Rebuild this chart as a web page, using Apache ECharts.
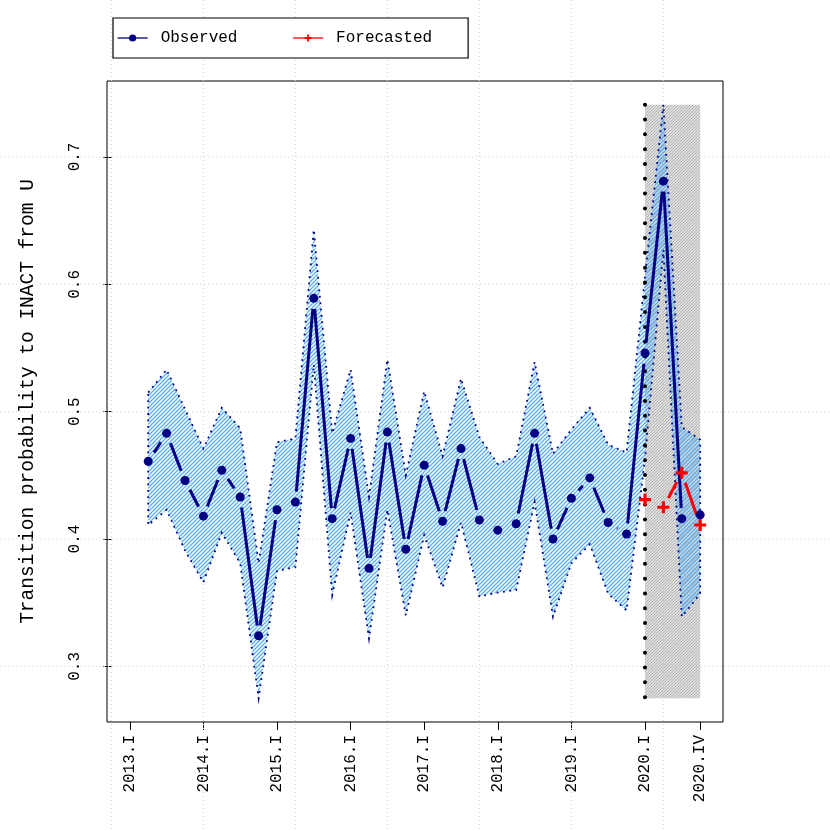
<!DOCTYPE html>
<html>
<head>
<meta charset="utf-8">
<script src="https://cdn.jsdelivr.net/npm/echarts@6/dist/echarts.min.js"></script>
<style>html,body{margin:0;padding:0;background:#fff}#c{width:830px;height:830px}</style>
</head>
<body>
<div id="c"></div>
<script>
// ---------------- data ----------------
const quarters = ['2013.II','2013.III','2013.IV','2014.I','2014.II','2014.III','2014.IV','2015.I','2015.II','2015.III','2015.IV',
  '2016.I','2016.II','2016.III','2016.IV','2017.I','2017.II','2017.III','2017.IV','2018.I','2018.II','2018.III','2018.IV',
  '2019.I','2019.II','2019.III','2019.IV','2020.I','2020.II','2020.III','2020.IV'];
const observed = [0.461,0.483,0.446,0.418,0.454,0.433,0.324,0.423,0.429,0.589,0.416,
  0.479,0.377,0.484,0.392,0.458,0.414,0.471,0.415,0.407,0.412,0.483,0.400,
  0.432,0.448,0.413,0.404,0.546,0.681,0.416,0.419];
const upperBand = [0.515,0.533,0.502,0.471,0.503,0.487,0.381,0.476,0.479,0.643,0.483,
  0.533,0.433,0.541,0.450,0.516,0.465,0.526,0.480,0.459,0.465,0.539,0.467,
  0.486,0.503,0.474,0.468,0.606,0.741,0.488,0.478];
const lowerBand = [0.411,0.423,0.391,0.366,0.405,0.381,0.275,0.375,0.378,0.537,0.356,
  0.421,0.322,0.423,0.340,0.403,0.362,0.413,0.355,0.358,0.360,0.429,0.339,
  0.381,0.396,0.357,0.344,0.463,0.627,0.339,0.357];
const forecastQuarters = ['2020.I','2020.II','2020.III','2020.IV'];
const forecasted = [0.431,0.425,0.452,0.411];
const tickLabels = ['2013.I','2014.I','2015.I','2016.I','2017.I','2018.I','2019.I','2020.I','2020.IV'];
const yTicks = [0.3,0.4,0.5,0.6,0.7];
const gridXs = [0,5,10,15,20,25,30];
const shadeFrom = '2020.I', shadeTo = '2020.IV';
const yTitle = 'Transition probability to INACT from U';

// ---------------- helpers ----------------
const FONT = '"Liberation Mono","Courier New",monospace';
const NAVY = '#000080', RED = '#ff0000';
function tOf(label){ const p = label.split('.'); return (parseInt(p[0],10)-2013)*4 + ({I:1,II:2,III:3,IV:4})[p[1]]; }
const tickPos = tickLabels.map(tOf);
const shadeLo = Math.min.apply(null, lowerBand), shadeHi = Math.max.apply(null, upperBand);
const xMin = 1 - 0.04*31, xMax = 32 + 0.04*31;
const yMin = shadeLo - 0.04*(shadeHi-shadeLo), yMax = shadeHi + 0.04*(shadeHi-shadeLo);

function hatch(color, s, lw){
  const c = document.createElement('canvas'); c.width = s; c.height = s;
  const g = c.getContext('2d'); g.strokeStyle = color; g.lineWidth = lw;
  g.beginPath();
  g.moveTo(0, s); g.lineTo(s, 0);
  g.moveTo(-s/2, s/2); g.lineTo(s/2, -s/2);
  g.moveTo(s/2, s*1.5); g.lineTo(s*1.5, s/2);
  g.stroke();
  return c;
}
const bluePat = {image: hatch('#56aef9', 4, 1.3), repeat: 'repeat'};
const grayPat = {image: hatch('#b4b4b4', 3, 1.3), repeat: 'repeat'};

function segData(ts, vs){ const out=[]; for(let i=0;i<vs.length-1;i++) out.push([ts[i],vs[i],ts[i+1],vs[i+1]]); return out; }
function gapped(color){
  return function(params, api){
    const a = api.coord([api.value(0), api.value(1)]);
    const b = api.coord([api.value(2), api.value(3)]);
    const dx=b[0]-a[0], dy=b[1]-a[1], d=Math.sqrt(dx*dx+dy*dy), gap=10.5;
    if (d <= 2*gap) return null;
    const ux=dx/d, uy=dy/d;
    return {type:'line', shape:{x1:a[0]+ux*gap, y1:a[1]+uy*gap, x2:b[0]-ux*gap, y2:b[1]-uy*gap},
      style:{stroke:color, lineWidth:3, lineCap:'butt'}, silent:true};
  };
}
const obsT = quarters.map(tOf);
const fcT = forecastQuarters.map(tOf);
const PLUS = 'path://M-0.13,-0.5 L0.13,-0.5 L0.13,-0.13 L0.5,-0.13 L0.5,0.13 L0.13,0.13 L0.13,0.5 L-0.13,0.5 L-0.13,0.13 L-0.5,0.13 L-0.5,-0.13 L-0.13,-0.13 Z';

const chart = echarts.init(document.getElementById('c'), null, {renderer:'canvas'});
chart.setOption({
  animation: false,
  backgroundColor: '#fff',
  grid: {left:107, right:107, top:81, bottom:108, show:true, borderColor:'#000', borderWidth:1, backgroundColor:'transparent'},
  legend: {
    left: 113, top: 18, orient: 'horizontal',
    backgroundColor: '#fff', borderColor: '#000', borderWidth: 1.2, borderRadius: 0,
    padding: [12, 36, 12, 4], itemGap: 55, itemWidth: 30, itemHeight: 9,
    textStyle: {fontFamily: FONT, fontSize: 16, color: '#000', padding: [0,0,0,8]},
    data: [
      {name: 'Observed', lineStyle: {opacity: 1, width: 1.3, color: NAVY}},
      {name: 'Forecasted', lineStyle: {opacity: 1, width: 1.3, color: RED}}
    ]
  },
  xAxis: {
    type: 'value', min: xMin, max: xMax,
    axisLine: {show:false}, splitLine: {show:false},
    axisTick: {show:true, length:8, customValues: tickPos, lineStyle:{color:'#000', width:1}},
    axisLabel: {show:true, customValues: tickPos, rotate: 90, margin: 13, color:'#000', fontFamily: FONT, fontSize: 16,
      formatter: function(v){ const i = tickPos.indexOf(v); return i>=0 ? tickLabels[i] : ''; }}
  },
  yAxis: {
    type: 'value', min: yMin, max: yMax,
    name: yTitle, nameLocation: 'middle', nameRotate: 90, nameGap: 69,
    nameTextStyle: {fontFamily: FONT, fontSize: 19.5, color: '#000'},
    axisLine: {show:false}, splitLine: {show:false},
    axisTick: {show:true, length:8, customValues: yTicks, lineStyle:{color:'#000', width:1}},
    axisLabel: {show:true, customValues: yTicks, rotate: 90, margin: 24, color:'#000', fontFamily: FONT, fontSize: 16,
      formatter: function(v){ return v.toFixed(1); }}
  },
  series: [
    { type:'custom', name:'vgrid', z:1, clip:false, silent:true,
      data: gridXs.map(v => [v, yTicks[0]]),
      renderItem: function(p, api){ const x = api.coord([api.value(0), api.value(1)])[0];
        return {type:'line', shape:{x1:x, y1:0, x2:x, y2:api.getHeight()}, style:{stroke:'#d3d3d3', lineWidth:1, lineDash:[1,3]}}; } },
    { type:'custom', name:'hgrid', z:1, clip:false, silent:true,
      data: yTicks.map(v => [gridXs[1], v]),
      renderItem: function(p, api){ const y = api.coord([api.value(0), api.value(1)])[1];
        return {type:'line', shape:{x1:0, y1:y, x2:api.getWidth(), y2:y}, style:{stroke:'#d3d3d3', lineWidth:1, lineDash:[1,3]}}; } },
    { type:'custom', name:'shade', z:2, silent:true,
      data: [[tOf(shadeFrom), tOf(shadeTo), shadeLo, shadeHi]],
      renderItem: function(p, api){
        const a = api.coord([api.value(0), api.value(3)]), b = api.coord([api.value(1), api.value(2)]);
        return {type:'rect', shape:{x:a[0], y:a[1], width:b[0]-a[0], height:b[1]-a[1]}, style:{fill: grayPat}}; } },
    { type:'custom', name:'band', z:3, silent:true,
      data: [[obsT[0], upperBand[0]]],
      renderItem: function(p, api){
        const pts = [];
        for (let i=0;i<upperBand.length;i++) pts.push(api.coord([obsT[i], upperBand[i]]));
        for (let i=lowerBand.length-1;i>=0;i--) pts.push(api.coord([obsT[i], lowerBand[i]]));
        return {type:'polygon', shape:{points:pts}, style:{fill: bluePat, stroke: NAVY, lineWidth:1.8, lineDash:[1.8,4.6]}}; } },
    { type:'custom', name:'vline', z:4, silent:true,
      data: [[tOf(shadeFrom), shadeLo, shadeHi]],
      renderItem: function(p, api){
        const a = api.coord([api.value(0), api.value(2)]), b = api.coord([api.value(0), api.value(1)]);
        return {type:'line', shape:{x1:a[0], y1:a[1], x2:b[0], y2:b[1]}, style:{stroke:'#000', lineWidth:4, lineDash:[0.01,14.8], lineCap:'round'}}; } },
    { type:'custom', name:'obsSeg', z:5, silent:true, data: segData(obsT, observed), renderItem: gapped(NAVY) },
    { type:'custom', name:'fcSeg', z:5, silent:true, data: segData(fcT, forecasted), renderItem: gapped(RED) },
    { type:'line', name:'Observed', z:6, data: observed.map((v,i) => [obsT[i], v]),
      symbol:'circle', symbolSize:9, showAllSymbol:true, itemStyle:{color:NAVY}, lineStyle:{opacity:0, width:0} },
    { type:'line', name:'Forecasted', z:7, data: forecasted.map((v,i) => [fcT[i], v]),
      symbol: PLUS, symbolSize: 12, showAllSymbol:true, itemStyle:{color:RED}, lineStyle:{opacity:0, width:0} }
  ]
});
</script>
</body>
</html>
